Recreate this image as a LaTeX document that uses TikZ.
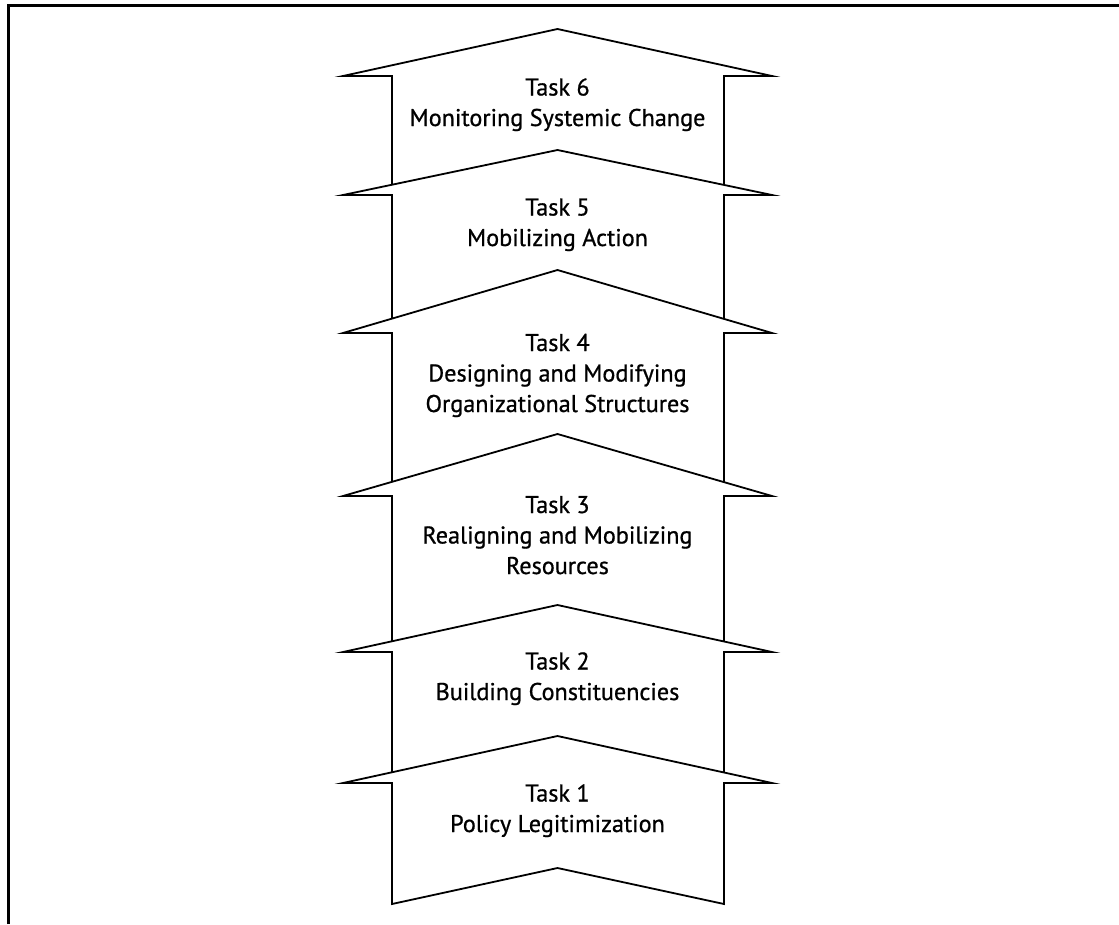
\documentclass[tikz,border=0pt]{standalone}
\usepackage{fontspec}
\setmainfont{PT Sans}
\newfontfamily\lblfont{PT Sans}[FakeBold=0.8]
\newcommand\taskarrow[4]{%
  \draw[arr] (557.5,#1) -- (772,#2) -- (724,#2) -- (724,#3) -- (557.5,#4)
    -- (392,#3) -- (392,#2) -- (343,#2) -- cycle;}
\begin{document}
\begin{tikzpicture}[x=1pt,y=-1pt,
  arr/.style={draw=black,line width=1.8pt,fill=white,line join=miter},
  lbl/.style={font=\lblfont\fontsize{24.2}{30.5}\selectfont,align=center,inner sep=0pt,anchor=base}]
\useasboundingbox (0,0) rectangle (1119,924);
\fill[white] (0,0) rectangle (1119,924);
\draw[line width=3pt] (8.5,924) -- (8.5,5.5) -- (1119,5.5);
\taskarrow{29}{76}{195}{195}
\taskarrow{150}{195}{333}{333}
\taskarrow{270}{333}{496}{496}
\taskarrow{434}{496}{652}{652}
\taskarrow{605}{652}{783}{783}
\taskarrow{736}{783}{904}{868}
\node[lbl] (t6) at (557.5,126) {Task 6\\Monitoring Systemic Change};
\node[lbl] (t5) at (557.5,246) {Task 5\\Mobilizing Action};
\node[lbl] (t4) at (557.5,412) {Task 4\\Designing and Modifying\\Organizational Structures};
\node[lbl] (t3) at (557.5,574) {Task 3\\Realigning and Mobilizing\\Resources};
\node[lbl] (t2) at (557.5,700) {Task 2\\Building Constituencies};
\node[lbl] (t1) at (557.5,832) {Task 1\\Policy Legitimization};
\end{tikzpicture}
\end{document}
